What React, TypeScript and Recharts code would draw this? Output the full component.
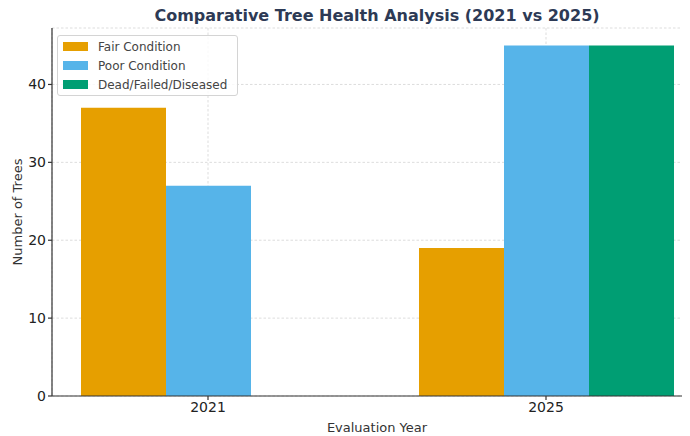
import { Bar, BarChart, CartesianGrid, XAxis, YAxis } from 'recharts';

const years = ['2021', '2025'];
const fair = [37, 19];
const poor = [27, 45];
const dead = [0, 45];
const yTicks = [0, 10, 20, 30, 40];

const series = [
	{ key: 'fair', name: 'Fair Condition', fill: '#E69F00' },
	{ key: 'poor', name: 'Poor Condition', fill: '#56B4E9' },
	{ key: 'dead', name: 'Dead/Failed/Diseased', fill: '#009E73' },
];

const data = years.map((year, i) => ({
	year,
	fair: fair[i],
	poor: poor[i],
	dead: dead[i],
}));

const font = 'DejaVu Sans, sans-serif';

function LegendBox() {
	return (
		<div
			style={{
				position: 'absolute',
				left: 57,
				top: 35,
				zIndex: 2,
				border: '1px solid #d4d4d4',
				borderRadius: 3,
				background: 'rgba(255,255,255,0.8)',
				padding: '1px 8px 1px 5px',
				width: 166,
				fontFamily: font,
				fontSize: 12,
				color: '#444',
			}}
		>
			{series.map((s) => (
				<div key={s.key} style={{ display: 'flex', alignItems: 'center', height: 19 }}>
					<span style={{ width: 25, height: 8.5, background: s.fill, marginRight: 10 }} />
					<span>{s.name}</span>
				</div>
			))}
		</div>
	);
}

export default function App() {
	return (
		<div style={{ position: 'relative', left: -8, top: -8, width: 690, height: 436, overflow: 'hidden', background: '#fff' }}>
			<div
				style={{
					position: 'absolute',
					left: 52,
					width: 650,
					top: 6,
					textAlign: 'center',
					fontFamily: font,
					fontWeight: 'bold',
					fontSize: 16,
					lineHeight: '20px',
					color: '#2d3a55',
					zIndex: 2,
				}}
			>
				Comparative Tree Health Analysis (2021 vs 2025)
			</div>
			<LegendBox />
			<BarChart
				width={710}
				height={436}
				data={data}
				margin={{ top: 28, right: 8, bottom: 0, left: 0 }}
				barSize={85}
				barGap={0}
			>
				<XAxis
					dataKey='year'
					height={40}
					padding={{ left: -13, right: -13 }}
					stroke='#333'
					strokeWidth={1.2}
					tickSize={4}
					tick={{ fill: '#222', fontSize: 14, fontFamily: font }}
					label={{ value: 'Evaluation Year', position: 'insideBottom', offset: 4, fill: '#333', fontSize: 13, fontFamily: font }}
				/>
				<YAxis
					type='number'
					width={52}
					domain={[0, 47.25]}
					ticks={yTicks}
					stroke='#333'
					strokeWidth={1.2}
					tickSize={4}
					tick={{ fill: '#222', fontSize: 14, fontFamily: font }}
					label={{
						content: () => (
							<text
								x={17}
								y={212}
								transform='rotate(-90 17 212)'
								textAnchor='middle'
								dominantBaseline='central'
								fill='#333'
								fontSize={13}
								fontFamily={font}
							>
								Number of Trees
							</text>
						),
					}}
				/>
				{series.map((s) => (
					<Bar key={s.key} dataKey={s.key} name={s.name} fill={s.fill} isAnimationActive={false} />
				))}
				<CartesianGrid stroke='#cfcfcf' strokeOpacity={0.7} strokeDasharray='2.5 2' />
			</BarChart>
		</div>
	);
}
